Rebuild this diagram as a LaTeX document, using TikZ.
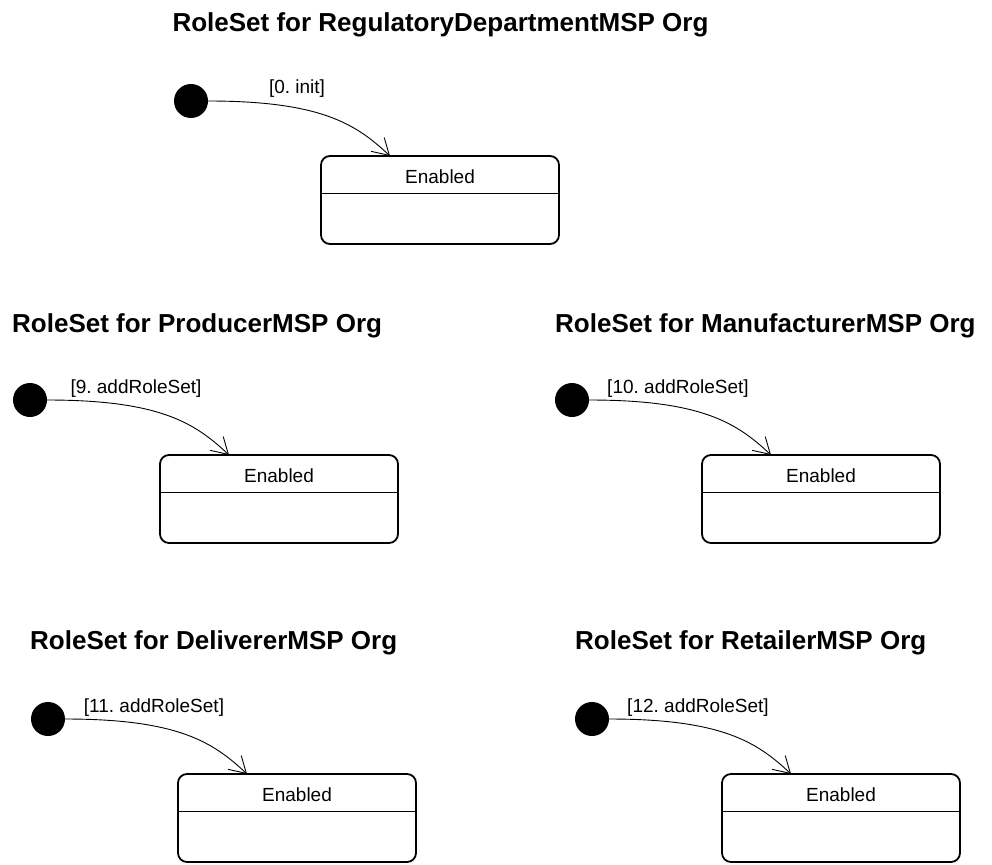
\documentclass[tikz,border=0pt]{standalone}
\usepackage{fontspec}
\setmainfont{Liberation Sans}
\usetikzlibrary{arrows.meta,calc}
\frenchspacing

\tikzset{
  x=1pt, y=1pt,
  startdot/.style={circle, fill=black, draw=none, minimum size=34pt, inner sep=0pt, outer sep=0pt},
  statebox/.style={draw, line width=1.8pt, rounded corners=9pt, minimum width=238pt,
    minimum height=88pt, inner sep=0pt, outer sep=0pt, anchor=north west},
  statename/.style={font=\fontsize{19}{22}\selectfont, anchor=base, inner sep=0pt},
  guardtext/.style={font=\fontsize{19}{22}\selectfont, anchor=base, inner sep=0pt},
  titletext/.style={font=\fontsize{26}{30}\selectfont\bfseries, inner sep=0pt},
  divider/.style={line width=0.9pt},
  transition/.style={line width=0.9pt, -{Straight Barb[length=16pt,width=19pt]}},
}

% One role set: start dot, transition with guard, and the "Enabled" state
% #1 name prefix, #2/#3 centre of the start dot (y measured downwards), #4 guard
\newcommand\rolesetchart[4]{%
  \node[startdot] (#1-start) at (#2,-#3) {};
  \node[statebox] (#1-state) at ($(#1-start.center)+(130,-55)$) {};
  \draw[divider] ($(#1-state.north west)+(0,-37)$) -- ($(#1-state.north east)+(0,-37)$);
  \node[statename] (#1-name) at ($(#1-state.north)+(0,-27)$) {Enabled};
  \coordinate (#1-in) at ($(#1-state.north west)+(69,0)$);
  \draw[transition] (#1-start.east) .. controls ($(#1-start.east)+(113,0)$)
    and ($(#1-in)+(-34,32)$) .. (#1-in);
  \node[guardtext] (#1-guard) at ($(#1-start.center)+(106,7)$) {#4};
}

\begin{document}
\begin{tikzpicture}
  \useasboundingbox (0,0) rectangle (992,-864);

  \node[titletext, anchor=base] (t-reg) at (440.5,-32) {RoleSet for RegulatoryDepartmentMSP Org};
  \rolesetchart{reg}{191}{101}{[0. init]}

  \node[titletext, anchor=base west] (t-prod) at (12,-332) {RoleSet for ProducerMSP Org};
  \rolesetchart{prod}{30}{400}{[9. addRoleSet]}

  \node[titletext, anchor=base west] (t-man) at (555,-332) {RoleSet for ManufacturerMSP Org};
  \rolesetchart{man}{572}{400}{[10. addRoleSet]}

  \node[titletext, anchor=base west] (t-del) at (30,-649) {RoleSet for DelivererMSP Org};
  \rolesetchart{del}{48}{719}{[11. addRoleSet]}

  \node[titletext, anchor=base west] (t-ret) at (575,-649) {RoleSet for RetailerMSP Org};
  \rolesetchart{ret}{592}{719}{[12. addRoleSet]}
\end{tikzpicture}
\end{document}
